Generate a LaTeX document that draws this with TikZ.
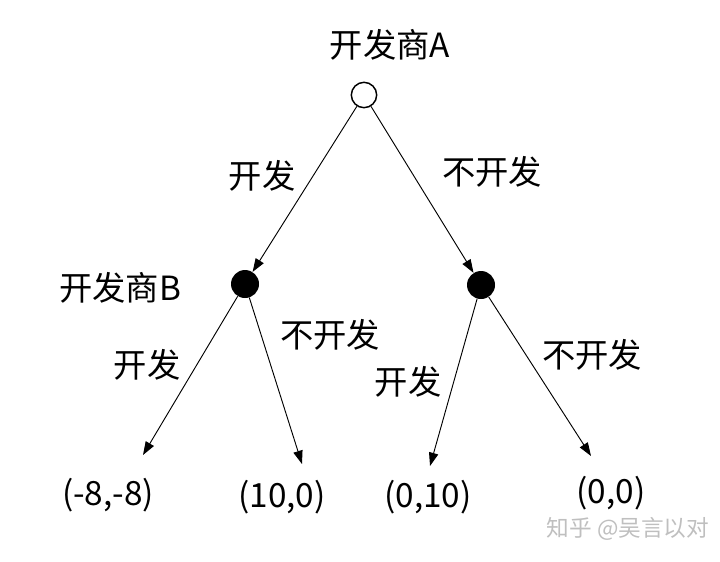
\documentclass[tikz,border=0pt]{standalone}
\usepackage{fontspec}
\setmainfont{Noto Sans CJK SC}
\usetikzlibrary{arrows.meta,positioning}

\begin{document}
\begin{tikzpicture}[
    x=0.75pt, y=-0.75pt,
    lbl/.style={font=\fontsize{25}{28}\selectfont, inner sep=0pt},
    opennode/.style={circle, draw, line width=1.1pt, fill=white, minimum size=19pt, inner sep=0pt},
    dotnode/.style={circle, fill=black, minimum size=21pt, inner sep=0pt},
    arr/.style={-{Triangle[length=10pt,width=7pt]}, line width=0.7pt}
]
\useasboundingbox (0,0) rectangle (720,561);

\node[lbl] (nameA) at (390,45) {开发商A};
\node[opennode] (A) at (364,95) {};
\node[dotnode] (B1) at (245,284) {};
\node[dotnode] (B2) at (481,285) {};
\node[lbl] (nameB) at (120,288) {开发商B};

\coordinate (t1) at (143,455);
\coordinate (t2) at (302,464);
\coordinate (t3) at (430,466);
\coordinate (t4) at (591,456);

\draw[arr] (A) -- (B1);
\draw[arr] (A) -- (B2);
\draw[arr] (B1) -- (t1);
\draw[arr] (B1) -- (t2);
\draw[arr] (B2) -- (t3);
\draw[arr] (B2) -- (t4);

\node[lbl] (dA) at (262,176) {开发};
\node[lbl] (nA) at (492,172) {不开发};
\node[lbl] (d1) at (147,365) {开发};
\node[lbl] (n1) at (330,335) {不开发};
\node[lbl] (d2) at (408,382) {开发};
\node[lbl] (n2) at (592,355) {不开发};

\node[lbl] (p1) at (108,495) {(-8,-8)};
\node[lbl] (p2) at (282,497) {(10,0)};
\node[lbl] (p3) at (428,497) {(0,10)};
\node[lbl] (p4) at (611,493) {(0,0)};

% watermark
\node[font=\fontsize{17}{19}\selectfont, text=black!25, inner sep=0pt] (wm) at (628,529) {知乎 @吴言以对};
\end{tikzpicture}
\end{document}
